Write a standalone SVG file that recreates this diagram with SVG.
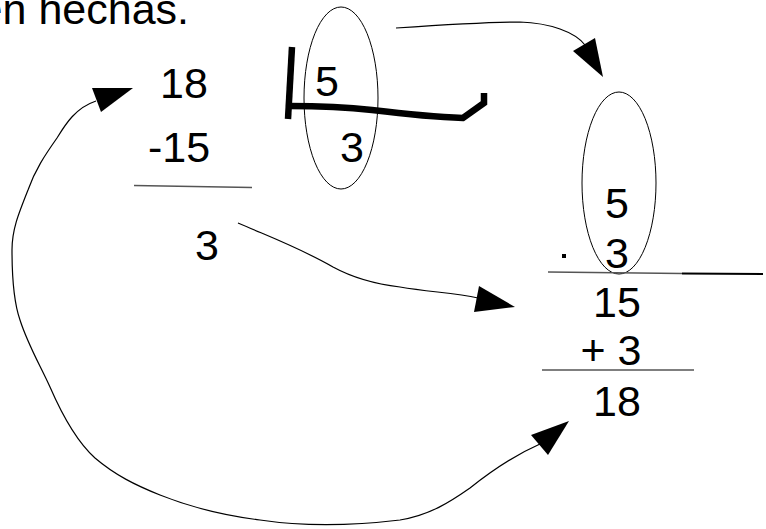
<svg xmlns="http://www.w3.org/2000/svg" width="766" height="529" viewBox="0 0 766 529">
<style>
  text { font-family: "Liberation Sans", Arial, sans-serif; font-size: 43px; fill: #000; }
  .num { text-anchor: middle; }
  .oval { fill: none; stroke: #000; stroke-width: 1; }
  .rule { fill: none; stroke: #555; stroke-width: 1.5; }
  .conn { fill: none; stroke: #000; stroke-width: 1.2; }
  .head { fill: #000; stroke: none; }
  .thick { fill: none; stroke: #000; stroke-width: 6.5; stroke-linejoin: miter; }
</style>
<rect width="766" height="529" fill="#fff"/>

<g id="heading">
  <text x="189" y="24" text-anchor="end">en hechas.</text>
</g>

<g id="division">
  <text class="num" x="184" y="98">18</text>
  <text class="num" x="179" y="162">-15</text>
  <path class="rule" d="M134,185.5 L252,187.5"/>
  <text class="num" x="207" y="260">3</text>
</g>

<g id="divisor">
  <path class="thick" d="M292,47 L288,119"/>
  <path class="thick" d="M289,106 C315,106 345,107 372,110 C405,114 435,117 463,118 L484,103 L484,93"/>
  <ellipse class="oval" cx="341" cy="98" rx="37" ry="91"/>
  <text class="num" x="327" y="96">5</text>
  <text class="num" x="352" y="162">3</text>
</g>

<g id="multiplication">
  <ellipse class="oval" cx="619" cy="183" rx="37" ry="91"/>
  <text class="num" x="617" y="218">5</text>
  <rect x="562" y="254" width="4" height="4" fill="#000"/>
  <text class="num" x="617" y="268">3</text>
  <path class="rule" d="M548,272 L682,273.5"/>
  <path d="M682,273.5 L763,274" fill="none" stroke="#000" stroke-width="2"/>
  <text class="num" x="617" y="317">15</text>
  <text class="num" x="611" y="365">+ 3</text>
  <path class="rule" d="M542,370 L694,370"/>
  <text class="num" x="617" y="416">18</text>
</g>

<g id="connectors">
  <path class="conn" d="M396,28 C440,25 490,22 520,22 C550,23 575,32 585,45"/>
  <polygon class="head" points="573,51 595,38 603,77"/>

  <path class="conn" d="M238,223 C270,237 300,248 333,267 C355,279 375,284 400,287 C430,292 455,293 478,298"/>
  <polygon class="head" points="479,286 474,312 515,307"/>

  <path class="conn" d="M96,101 C75,108 65,125 57,138 C45,155 35,170 28,190 C18,215 12,230 12,250 C12,275 13,300 20,320 C28,345 40,365 50,387 C60,410 75,440 95,458 C115,475 135,485 160,495 C190,507 220,515 260,520 C300,526 350,526 400,520 C430,515 450,502 470,488 C490,472 515,455 540,444"/>
  <polygon class="head" points="531,435 548,455 569,421"/>

  <polygon class="head" points="92,88 101,112 133,88"/>
</g>
</svg>
